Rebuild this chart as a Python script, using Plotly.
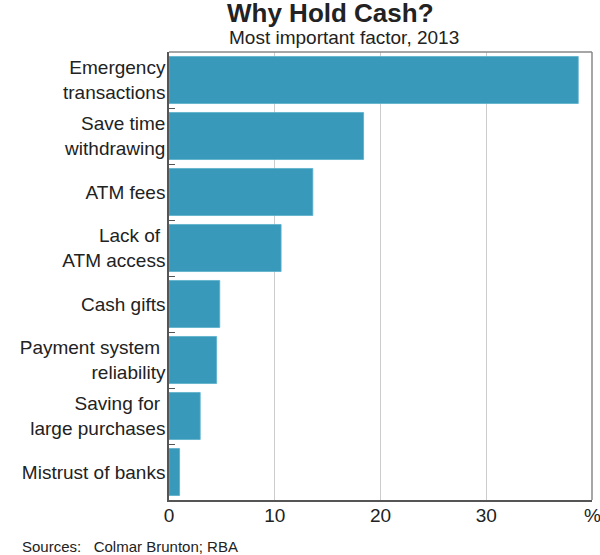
import plotly.graph_objects as go

categories = ["Emergency<br>transactions", "Save time<br>withdrawing", "ATM fees",
              "Lack of <br>ATM access", "Cash gifts", "Payment system <br>reliability",
              "Saving for <br>large purchases", "Mistrust of banks"]
values = [38.7, 18.4, 13.6, 10.6, 4.8, 4.5, 2.95, 1.0]
x_tickvals = [0, 10, 20, 30]
x_ticktext = ["0", "10", "20", "30"]
unit_label = "%"

FONT = "Liberation Sans, Arial, sans-serif"
L, R, T, B = 169, 8, 52, 55
W, H = 600, 555

fig = go.Figure(go.Bar(
    y=categories, x=values, orientation="h",
    marker=dict(color="#3899BA", line=dict(color="#5aaecb", width=0.8)),
))

def px(x, y):
    return (x - L) / (W - L - R), 1 - (y - T) / (H - T - B)

ann = []
for text, x, y, size, anchor in [
    ("<b>Why Hold Cash?</b>", 330, 13, 26, "center"),
    ("Most important factor, 2013", 344, 37, 19, "center"),
    ("Sources:   Colmar Brunton; RBA", 20, 546, 15, "left"),
    (unit_label, 592, 515, 19, "center"),
]:
    fx, fy = px(x, y)
    ann.append(dict(text=text, x=fx, y=fy, xref="paper", yref="paper",
                    xanchor=anchor, yanchor="middle", showarrow=False,
                    font=dict(size=size, family=FONT, color="#222")))

fig.update_layout(
    width=W, height=H,
    margin=dict(l=L, r=R, t=T, b=B, autoexpand=False),
    plot_bgcolor="white", paper_bgcolor="white",
    bargap=0.16, showlegend=False,
    font=dict(family=FONT, color="#222", size=19),
    xaxis=dict(range=[0, 40], tickvals=x_tickvals, ticktext=x_ticktext,
               showgrid=True, gridcolor="#cccccc", gridwidth=1,
               showline=True, linecolor="#555", linewidth=1.5,
               ticks="", tickfont=dict(size=19), zeroline=False, automargin=False,
               ticklabelstandoff=-3),
    yaxis=dict(autorange="reversed", type="category",
               showline=True, linecolor="#555", linewidth=1.5,
               ticks="inside", tickson="boundaries", ticklen=6, tickcolor="#555",
               tickfont=dict(size=19), showgrid=False, automargin=False,
               ticklabelstandoff=-2),
    shapes=[
        dict(type="line", xref="paper", yref="paper", x0=0, x1=1, y0=1, y1=1,
             line=dict(color="#888", width=1.5)),
        dict(type="line", xref="paper", yref="paper", x0=1, x1=1, y0=0, y1=1,
             line=dict(color="#888", width=1.5)),
    ],
    annotations=ann,
)

fig.write_html("out.html", config={"displayModeBar": False},
               post_script="document.body.style.margin='0px';"
                           "document.documentElement.style.overflow='hidden';")
